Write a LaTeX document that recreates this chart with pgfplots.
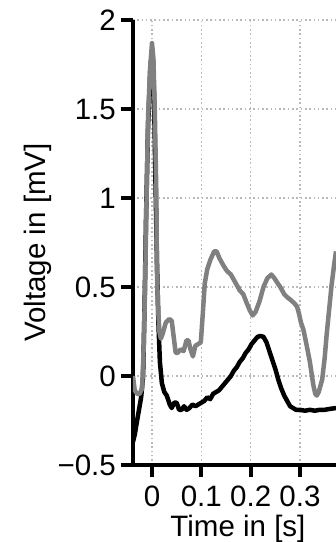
\documentclass[border=0pt]{standalone}
\usepackage{fontspec}
\setmainfont{Liberation Sans}
\usepackage{pgfplots}
\pgfplotsset{compat=1.18}
\begin{document}
\begin{tikzpicture}
\begin{axis}[
  at={(0,0)}, anchor=south west,
  scale only axis, width=203pt, height=445pt,
  xmin=-0.0385, xmax=0.373, ymin=-0.5, ymax=2,
  axis lines*=left,
  axis line style={line width=4pt, black},
  xtick={0,0.1,0.2,0.3}, xticklabels={0,0.1,0.2,0.3},
  ytick={-0.5,0,0.5,1,1.5,2}, yticklabels={−0.5,0,0.5,1,1.5,2},
  tick align=outside, major tick length=12pt,
  tick style={line width=4pt, black},
  grid=major,
  major grid style={gray!55, line width=1.4pt, dash pattern=on 1.6pt off 2.7pt},
  ticklabel style={font=\fontsize{29.5}{34}\selectfont},
  xticklabel style={inner sep=0pt, anchor=north, yshift=-9pt},
  yticklabel style={inner sep=0pt, anchor=east, xshift=-5pt},
  label style={font=\fontsize{29.5}{34}\selectfont},
  xlabel={Time in [s]}, ylabel={Voltage in [mV]},
  xlabel style={at={(axis description cs:0.517,-0.1596)}, anchor=base, inner sep=0pt},
  ylabel style={at={(axis description cs:-0.470,0.5)}, anchor=center, inner sep=0pt},
]
\addplot[black, line width=4.5pt, line join=round] coordinates {
(-0.0385,-0.37) (-0.035,-0.33) (-0.032,-0.28) (-0.027,-0.20) (-0.022,-0.12)
(-0.018,0.00) (-0.015,0.40) (-0.012,0.90) (-0.008,1.40) (-0.003,1.75)
(0.001,1.82) (0.004,1.60) (0.007,1.10) (0.010,0.65) (0.013,0.30)
(0.016,0.08) (0.020,-0.04) (0.025,-0.09) (0.030,-0.11) (0.036,-0.16)
(0.040,-0.18) (0.045,-0.15) (0.050,-0.15) (0.055,-0.19) (0.060,-0.19)
(0.065,-0.17) (0.070,-0.19) (0.076,-0.18) (0.082,-0.16) (0.088,-0.17)
(0.094,-0.16) (0.100,-0.15) (0.106,-0.14) (0.112,-0.12) (0.118,-0.13)
(0.124,-0.10) (0.130,-0.09) (0.136,-0.08) (0.142,-0.06) (0.148,-0.04)
(0.154,-0.02) (0.160,0.00) (0.166,0.03) (0.172,0.05) (0.178,0.08)
(0.184,0.10) (0.190,0.13) (0.196,0.15) (0.202,0.18) (0.208,0.20)
(0.214,0.22) (0.220,0.225) (0.226,0.22) (0.232,0.19) (0.238,0.14)
(0.244,0.09) (0.250,0.04) (0.256,-0.02) (0.262,-0.07) (0.268,-0.11)
(0.274,-0.14) (0.280,-0.17) (0.286,-0.18) (0.292,-0.19) (0.300,-0.19)
(0.310,-0.195) (0.320,-0.19) (0.330,-0.195) (0.340,-0.19) (0.350,-0.19)
(0.360,-0.185) (0.373,-0.18)
};
\addplot[gray, line width=4.5pt, line join=round] coordinates {
(-0.0385,0.00) (-0.035,-0.08) (-0.030,-0.10) (-0.025,-0.10) (-0.020,-0.07)
(-0.017,0.15) (-0.014,0.50) (-0.011,1.00) (-0.008,1.45) (-0.004,1.72)
(0.000,1.87) (0.003,1.78) (0.006,1.45) (0.009,1.00) (0.010,0.60)
(0.012,0.40) (0.015,0.25) (0.018,0.21) (0.022,0.24) (0.028,0.30)
(0.035,0.32) (0.040,0.31) (0.044,0.22) (0.048,0.13) (0.052,0.13)
(0.058,0.15) (0.064,0.14) (0.070,0.20) (0.074,0.20) (0.078,0.15)
(0.083,0.11) (0.088,0.17) (0.094,0.18) (0.099,0.19) (0.103,0.35)
(0.107,0.52) (0.112,0.60) (0.118,0.65) (0.126,0.70) (0.131,0.70)
(0.137,0.66) (0.145,0.62) (0.152,0.59) (0.160,0.57) (0.166,0.54)
(0.172,0.51) (0.178,0.48) (0.185,0.46) (0.192,0.41) (0.198,0.37)
(0.204,0.34) (0.210,0.36) (0.218,0.42) (0.226,0.50) (0.234,0.55)
(0.242,0.57) (0.248,0.55) (0.255,0.52) (0.260,0.50) (0.268,0.46)
(0.275,0.44) (0.280,0.43) (0.288,0.41) (0.294,0.39) (0.298,0.35)
(0.302,0.30) (0.307,0.26) (0.313,0.18) (0.320,0.08) (0.327,-0.05)
(0.331,-0.10) (0.334,-0.11) (0.338,-0.09) (0.345,-0.02) (0.350,0.10)
(0.354,0.23) (0.359,0.37) (0.364,0.51) (0.369,0.62) (0.373,0.70)
};
\end{axis}
\pgfresetboundingbox
\useasboundingbox (-133pt,-77pt) rectangle (203pt,465pt);
\end{tikzpicture}
\end{document}
